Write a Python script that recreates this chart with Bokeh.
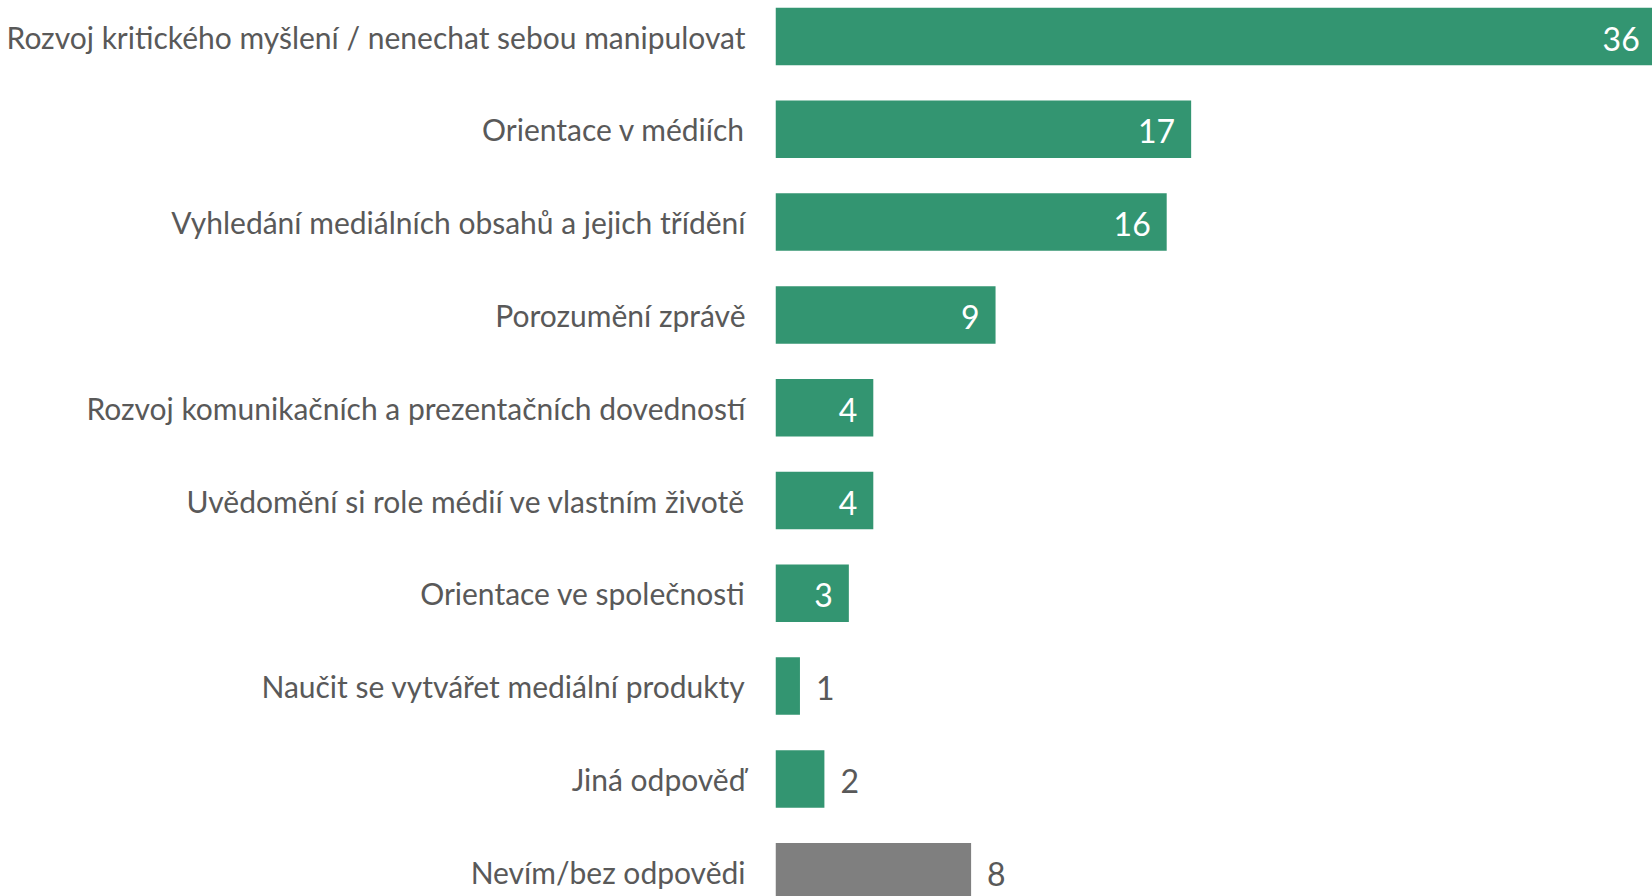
from bokeh.plotting import figure
from bokeh.models import ColumnDataSource, Range1d, FixedTicker
from bokeh.core.properties import value
from bokeh.embed import file_html
from bokeh.resources import INLINE

categories = [
    "Rozvoj kritického myšlení / nenechat sebou manipulovat",
    "Orientace v médiích",
    "Vyhledání mediálních obsahů a jejich třídění",
    "Porozumění zprávě",
    "Rozvoj komunikačních a prezentačních dovedností",
    "Uvědomění si role médií ve vlastním životě",
    "Orientace ve společnosti",
    "Naučit se vytvářet mediální produkty",
    "Jiná odpověď",
    "Nevím/bez odpovědi",
]
values = [36, 17, 16, 9, 4, 4, 3, 1, 2, 8]

GREEN = "#339571"
GRAY = "#7f7f7f"
TEXT = "#595959"
FONT = "Lato"

n = len(categories)
idx = list(range(n))
colors = [GREEN] * (n - 1) + [GRAY]

W, H = 1652, 896
left_border = 775
px_per_unit = 24.45
px_per_row = 92.8
top_pad = 36 / px_per_row

p = figure(width=W, height=H, output_backend="svg", toolbar_location=None,
           x_range=Range1d(0, (W - left_border) / px_per_unit),
           y_range=Range1d(-top_pad + H / px_per_row, -top_pad),
           min_border_left=left_border, min_border_right=0,
           min_border_top=0, min_border_bottom=0)

src = ColumnDataSource(dict(y=idx, v=values, c=colors))
p.hbar(y="y", right="v", left=0, height=0.62, color="c", line_color=None, source=src)

inside = [(c == GREEN and v >= 3) for v, c in zip(values, colors)]
in_src = ColumnDataSource(dict(
    y=[i for i, f in zip(idx, inside) if f],
    v=[v for v, f in zip(values, inside) if f],
    t=[str(v) for v, f in zip(values, inside) if f]))
out_src = ColumnDataSource(dict(
    y=[i for i, f in zip(idx, inside) if not f],
    v=[v for v, f in zip(values, inside) if not f],
    t=[str(v) for v, f in zip(values, inside) if not f]))

p.text(x="v", y="y", text="t", source=in_src, text_align="right",
       text_baseline="middle", x_offset=-16, y_offset=2,
       text_font=value(FONT), text_font_size="32px", text_color="white")
p.text(x="v", y="y", text="t", source=out_src, text_align="left",
       text_baseline="middle", x_offset=16, y_offset=2,
       text_font=value(FONT), text_font_size="32px", text_color=TEXT)

p.xaxis.visible = False
ax = p.yaxis[0]
ax.ticker = FixedTicker(ticks=idx)
ax.major_label_overrides = {i: c for i, c in zip(idx, categories)}
ax.axis_line_color = None
ax.major_tick_line_color = None
ax.minor_tick_line_color = None
ax.major_tick_out = 0
ax.major_tick_in = 0
ax.major_label_standoff = 30
ax.major_label_text_font = FONT
ax.major_label_text_font_size = "30px"
ax.major_label_text_color = TEXT

p.xgrid.visible = False
p.ygrid.visible = False
p.outline_line_color = None
p.background_fill_color = "white"
p.border_fill_color = "white"

open("out.html", "w").write(file_html(p, INLINE))
